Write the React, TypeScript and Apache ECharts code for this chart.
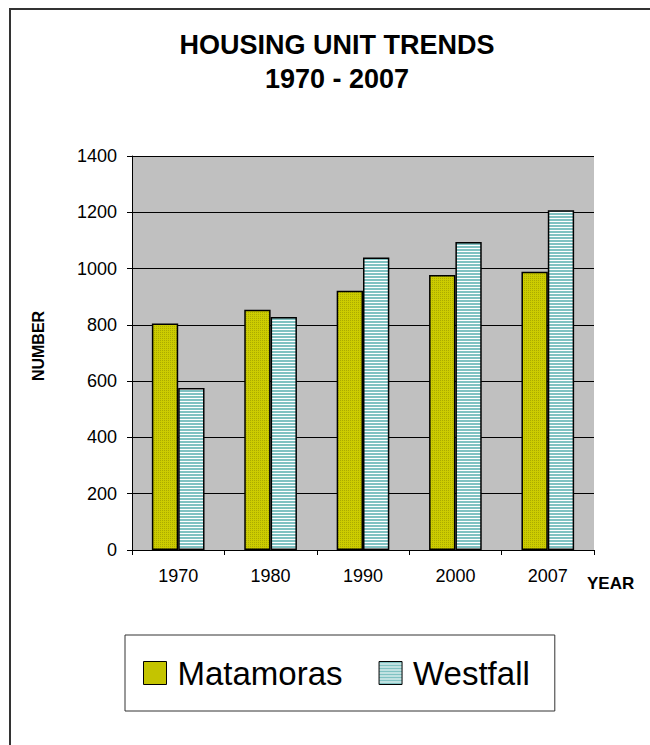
import React, { useEffect, useRef } from "react";
import * as echarts from "echarts";

const titleLines = ["HOUSING UNIT TRENDS", "1970 - 2007"];
const years = ["1970", "1980", "1990", "2000", "2007"];
const seriesNames = ["Matamoras", "Westfall"];
const matamoras = [805, 854, 921, 977, 989];
const westfall = [576, 828, 1039, 1094, 1207];
const yTicks = { min: 0, max: 1400, interval: 200 };

const FONT = "'Liberation Sans', Arial, Helvetica, sans-serif";

function makeDither(): HTMLCanvasElement {
  const c = document.createElement("canvas");
  c.width = 2;
  c.height = 2;
  const ctx = c.getContext("2d")!;
  ctx.fillStyle = "#CCCC00";
  ctx.fillRect(0, 0, 2, 2);
  ctx.fillStyle = "#ABAB00";
  ctx.fillRect(0, 0, 1, 1);
  return c;
}

function makeStripes(): HTMLCanvasElement {
  const c = document.createElement("canvas");
  c.width = 4;
  c.height = 3;
  const ctx = c.getContext("2d")!;
  ctx.fillStyle = "#80C2C2";
  ctx.fillRect(0, 0, 4, 2);
  ctx.fillStyle = "#FFFFFF";
  ctx.fillRect(0, 2, 4, 1);
  return c;
}

export default function App() {
  const ref = useRef<HTMLDivElement>(null);

  useEffect(() => {
    if (!ref.current) return;
    const chart = echarts.init(ref.current, null, { renderer: "svg" });
    const yellow = { image: makeDither(), repeat: "repeat" } as any;
    const teal = { image: makeStripes(), repeat: "repeat" } as any;

    chart.setOption({
      animation: false,
      backgroundColor: "#FFFFFF",
      title: {
        text: titleLines.join("\n"),
        left: 332,
        top: 23,
        textAlign: "center",
        textStyle: {
          fontFamily: FONT,
          fontSize: 27,
          fontWeight: "bold",
          color: "#000",
          lineHeight: 34,
        },
      },
      graphic: [
        {
          type: "rect",
          shape: { x: 10, y: 9, width: 700, height: 800 },
          style: { fill: "none", stroke: "#333", lineWidth: 2 },
          silent: true,
        },
      ],
      legend: {
        left: 125,
        top: 635,
        padding: [21, 25, 21, 18],
        itemWidth: 23,
        itemHeight: 23,
        itemGap: 36,
        borderColor: "#333",
        borderWidth: 1,
        icon: "rect",
        textStyle: {
          fontFamily: FONT,
          fontSize: 33,
          color: "#000",
          lineHeight: 34,
          padding: [0, 0, 0, 6],
        },
        itemStyle: { borderColor: "#000", borderWidth: 1 },
        data: seriesNames,
      },
      grid: {
        left: 132,
        right: 56,
        top: 156,
        bottom: 195,
        show: true,
        backgroundColor: "#C0C0C0",
        borderWidth: 0,
      },
      xAxis: {
        type: "category",
        data: years,
        name: "YEAR",
        nameLocation: "end",
        nameGap: -7,
        nameTextStyle: {
          fontFamily: FONT,
          fontSize: 17,
          fontWeight: "bold",
          color: "#000",
          align: "left",
          verticalAlign: "top",
          padding: [25, 0, 0, 0],
        },
        axisLine: { show: true, lineStyle: { color: "#000", width: 1 } },
        axisTick: { show: true, length: 5, lineStyle: { color: "#000" } },
        axisLabel: {
          fontFamily: FONT,
          fontSize: 18,
          color: "#000",
          margin: 17,
        },
        splitLine: { show: false },
      },
      yAxis: {
        type: "value",
        min: yTicks.min,
        max: yTicks.max,
        interval: yTicks.interval,
        name: "NUMBER",
        nameLocation: "middle",
        nameRotate: 90,
        nameGap: 86,
        nameTextStyle: {
          fontFamily: FONT,
          fontSize: 16,
          fontWeight: "bold",
          color: "#000",
          padding: [0, 0, 0, 14],
        },
        axisLine: { show: true, lineStyle: { color: "#000", width: 1 } },
        axisTick: { show: true, length: 5, lineStyle: { color: "#000" } },
        axisLabel: {
          fontFamily: FONT,
          fontSize: 18,
          color: "#000",
          margin: 15,
          formatter: (v: number) => String(v),
        },
        splitLine: { show: true, lineStyle: { color: "#000", width: 1 } },
      },
      series: [
        {
          name: seriesNames[0],
          type: "bar",
          data: matamoras,
          barGap: "0%",
          barCategoryGap: "43%",
          itemStyle: { color: yellow, borderColor: "#000", borderWidth: 1.5 },
        },
        {
          name: seriesNames[1],
          type: "bar",
          data: westfall,
          barGap: "0%",
          barCategoryGap: "43%",
          itemStyle: { color: teal, borderColor: "#000", borderWidth: 1.5 },
        },
      ],
    });

    return () => chart.dispose();
  }, []);

  return (
    <div
      ref={ref}
      style={{ position: "absolute", left: 0, top: 0, width: 650, height: 745 }}
    />
  );
}
